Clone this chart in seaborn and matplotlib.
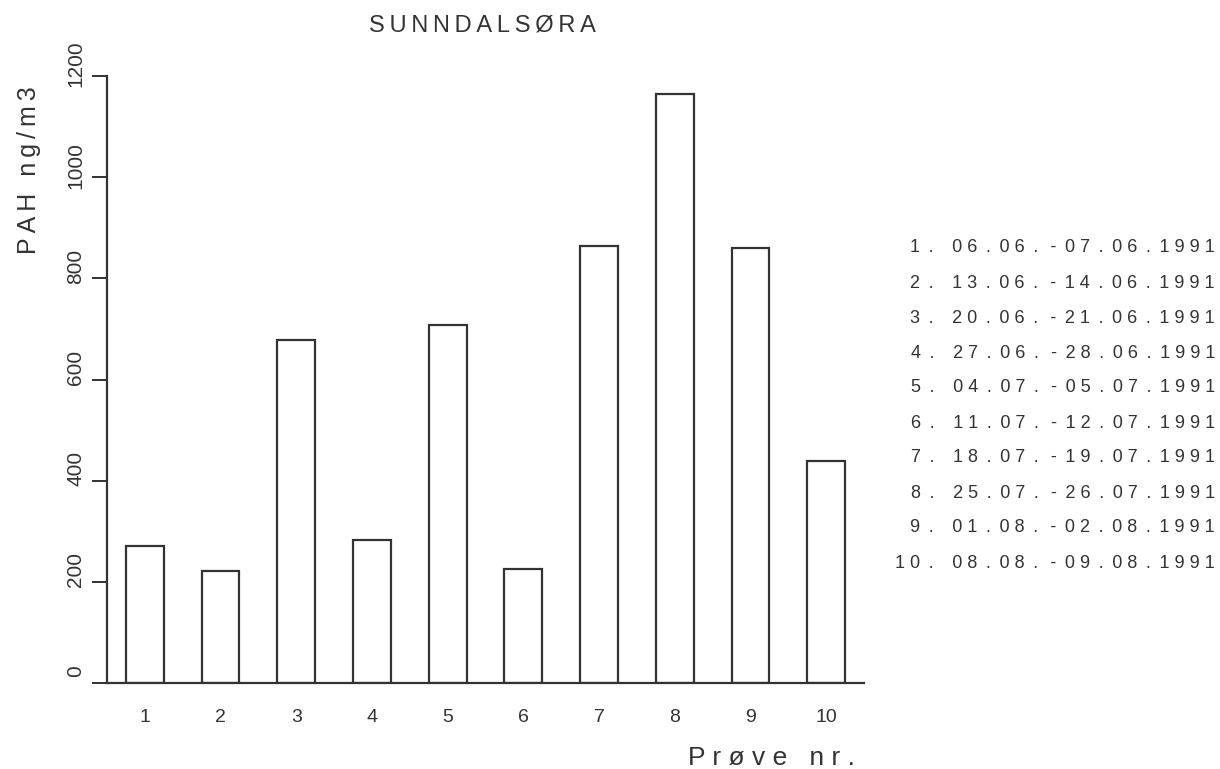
import matplotlib
matplotlib.use("Agg")
import matplotlib.pyplot as plt
import matplotlib.transforms as mtransforms
import seaborn as sns

# Sample numbers, measured PAH concentrations (ng/m3) and sampling periods
samples = ["1", "2", "3", "4", "5", "6", "7", "8", "9", "10"]
pah = [271, 221, 678, 283, 708, 225, 864, 1164, 860, 439]
periods = [
    "06.06.-07.06.1991",
    "13.06.-14.06.1991",
    "20.06.-21.06.1991",
    "27.06.-28.06.1991",
    "04.07.-05.07.1991",
    "11.07.-12.07.1991",
    "18.07.-19.07.1991",
    "25.07.-26.07.1991",
    "01.08.-02.08.1991",
    "08.08.-09.08.1991",
]
yticks = [0, 200, 400, 600, 800, 1000, 1200]

title = "SUNNDALSØRA"
ylabel = "PAH ng/m3"
xlabel = "Prøve nr."

sns.set_style("white")
FONT = ["Liberation Sans", "DejaVu Sans"]
INK = "#333333"
THIN = "\u2009"


def spaced(s, sep=" ", pad_narrow=False):
    """Spread the characters out like plotter lettering."""
    out = []
    for ch in s:
        if pad_narrow and ch in ".-":
            ch = THIN + ch + THIN
        out.append(ch)
    return sep.join(out)


W, H = 1220, 769
fig = plt.figure(figsize=(W / 100, H / 100), dpi=100)
ax = fig.add_axes([107 / W, 86 / H, (864 - 107) / W, (683 - 76) / H])

sns.barplot(x=samples, y=pah, order=samples, ax=ax, width=0.5, color="white",
            saturation=1, edgecolor=INK, linewidth=1.6, errorbar=None)

ax.set_xlim(-0.5, 9.5)
ax.set_ylim(0, 1200)
ax.set_yticks(yticks)
ax.set_yticklabels([str(v) for v in yticks], rotation=90, va="center",
                   family=FONT, fontsize=15, color=INK)
ax.set_xticks(range(len(samples)))
ax.set_xticklabels(samples, family=FONT, fontsize=14, color=INK)
ax.set_xlabel("")
ax.set_ylabel("")

for side in ("top", "right"):
    ax.spines[side].set_visible(False)
for side in ("left", "bottom"):
    ax.spines[side].set_color(INK)
    ax.spines[side].set_linewidth(1.6)

ax.tick_params(axis="y", left=True, direction="out", length=10.8, width=1.4,
               color=INK, pad=5)
ax.tick_params(axis="x", bottom=False, length=0, pad=19)

# y tick labels sit a little above their ticks
shift = mtransforms.ScaledTranslation(0, 12 / 100, fig.dpi_scale_trans)
for lab in ax.get_yticklabels():
    lab.set_transform(lab.get_transform() + shift)

fig.text(482 / W, 1 - 25 / H, spaced(title, THIN), ha="center", va="center",
         family=FONT, fontsize=17, color=INK)
fig.text(29 / W, 1 - 170 / H, spaced(ylabel, THIN), rotation=90, ha="center",
         va="center", family=FONT, fontsize=18, color=INK)
fig.text(855 / W, 1 - 758 / H, spaced(xlabel, " "), ha="right", va="center",
         family=FONT, fontsize=19, color=INK)

for i, (s, p) in enumerate(zip(samples, periods)):
    fig.text(1215 / W, 1 - (248 + 35 * i) / H, spaced(f"{s}. {p}", " ", True),
             ha="right", va="center", family=FONT, fontsize=13, color=INK)

fig.savefig("out.png", dpi=100, facecolor="white")
